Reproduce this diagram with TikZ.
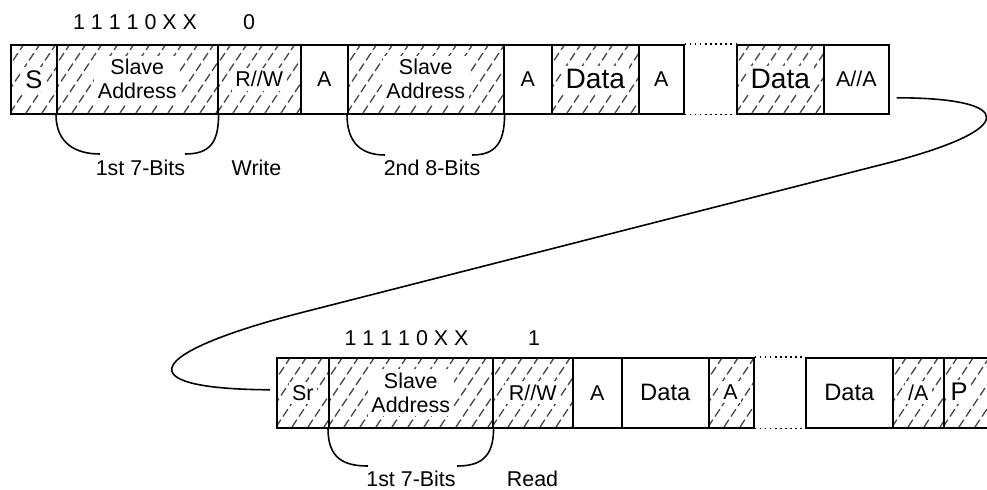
\documentclass[tikz,border=0pt]{standalone}
\usepackage{fontspec}
\setmainfont{Liberation Sans}
\usetikzlibrary{calc}
\newcommand\nf{\fontsize{12.2}{13.7}\selectfont}
\newcommand\bigdata{\fontsize{16}{18}\selectfont}
\newcommand\middata{\fontsize{13.5}{15}\selectfont}
\newcommand\bigletter{\fontsize{14.5}{16}\selectfont}
\newcommand\field[6]{%
  \ifnum#6=1\relax
    \begin{scope}
      \clip (#2,#4) rectangle (#3,#5);
      \foreach \k in {-80,-64,...,180}{\draw[hatchline] (#2+\k,#5) -- ++(70,-105);}
    \end{scope}%
  \fi
  \node[fieldbox, minimum width={(#3-#2)*0.02cm}, minimum height={(#5-#4)*0.02cm}] (#1) at (#2,#4) {};
}
\newcommand\ftext[2]{\node[intext] (#1-t) at (#1.center) {#2};}
\begin{document}
\begin{tikzpicture}[x=0.02cm,y=-0.02cm,
  fieldbox/.style={draw, line width=0.9pt, inner sep=0pt, anchor=north west},
  intext/.style={fill=white, inner sep=2pt, align=center, font=\nf},
  lbl/.style={inner sep=0pt, anchor=base, font=\nf},
  hatchline/.style={draw=black!72, line width=0.75pt, dash pattern=on 5pt off 2.2pt},
  brace/.style={line width=0.9pt},
  gapline/.style={line width=0.9pt, dotted},
  link/.style={line width=0.9pt}]
\clip (0,0) rectangle (987,490);
\fill[white] (0,0) rectangle (987,490);

% ---------- top row ----------
\field{s}{10}{56}{44}{113}{1}
\field{sa1}{56}{217}{44}{113}{1}
\field{rw1}{217}{300}{44}{113}{1}
\field{a1}{300}{347}{44}{113}{0}
\field{sa2}{347}{503}{44}{113}{1}
\field{a2}{503}{551}{44}{113}{0}
\field{d1}{551}{638}{44}{113}{1}
\field{a3}{638}{683}{44}{113}{0}
\field{d2}{736}{823}{44}{113}{1}
\field{aa}{823}{888}{44}{113}{0}
\ftext{s}{\bigletter S}
\ftext{sa1}{Slave\\Address}
\ftext{rw1}{R//W}
\ftext{a1}{A}
\ftext{sa2}{Slave\\Address}
\ftext{a2}{A}
\ftext{d1}{\bigdata Data}
\ftext{a3}{A}
\ftext{d2}{\bigdata Data}
\ftext{aa}{A//A}
\draw[gapline] (a3.north east) -- (d2.north west);
\draw[gapline] (a3.south east) -- (d2.south west);

\node[lbl] (bits1) at (135,30) {1 1 1 1 0 X X};
\node[lbl] (rwbit1) at (249,30) {0};
\node[lbl] (first1) at (140.5,175) {1st 7-Bits};
\node[lbl] (write) at (256.5,175) {Write};
\node[lbl] (second) at (432,175) {2nd 8-Bits};

\coordinate (b1l) at (100,154);
\coordinate (b1r) at (185,154);
\coordinate (b2l) at (385,155);
\coordinate (b2r) at (472,155);
\draw[brace] (sa1.south west) .. controls +(0,29) and +(-24,0) .. (b1l);
\draw[brace] (sa1.south east) .. controls +(0,29) and +(24,0) .. (b1r);
\draw[brace] (sa2.south west) .. controls +(0,30) and +(-22,0) .. (b2l);
\draw[brace] (sa2.south east) .. controls +(0,30) and +(22,0) .. (b2r);

% ---------- bottom row ----------
\field{sr}{276}{328}{357}{427}{1}
\field{sa3}{328}{492}{357}{427}{1}
\field{rw2}{492}{572}{357}{427}{1}
\field{a4}{572}{621}{357}{427}{0}
\field{d3}{621}{708}{357}{427}{0}
\field{a5}{708}{753}{357}{427}{1}
\field{d4}{805}{892}{357}{427}{0}
\field{na}{892}{943}{357}{427}{1}
\field{p}{943}{1000}{357}{427}{1}
\ftext{sr}{Sr}
\ftext{sa3}{Slave\\Address}
\ftext{rw2}{R//W}
\ftext{a4}{A}
\ftext{d3}{\middata Data}
\node[intext] (a5-t) at (730.5,392) {A};
\ftext{d4}{\middata Data}
\ftext{na}{/A}
\node[intext, font=\bigletter] (p-t) at (959,392) {P};
\draw[gapline] (a5.north east) -- (d4.north west);
\draw[gapline] (a5.south east) -- (d4.south west);

\node[lbl] (bits2) at (406.5,345) {1 1 1 1 0 X X};
\node[lbl] (rwbit2) at (534,345) {1};
\node[lbl] (first2) at (411,486) {1st 7-Bits};
\node[lbl] (read) at (532.5,486) {Read};

\coordinate (b3l) at (368,466);
\coordinate (b3r) at (457,466);
\draw[brace] (sa3.south west) .. controls +(0,30) and +(-24,0) .. (b3l);
\draw[brace] (sa3.south east) .. controls +(0,30) and +(22,0) .. (b3r);

% ---------- link between rows ----------
\coordinate (l1) at ($(aa.east)+(7,18.5)$);
\coordinate (l2) at ($(sr.west)+(-6,-3)$);
\coordinate (m1) at (880,165);
\coordinate (m2) at (300,313);
\draw[link] (l1) .. controls +(118,0) and (1024,129) .. (m1) -- (m2)
  .. controls (145,353) and (125,389) .. (l2);
\end{tikzpicture}
\end{document}
